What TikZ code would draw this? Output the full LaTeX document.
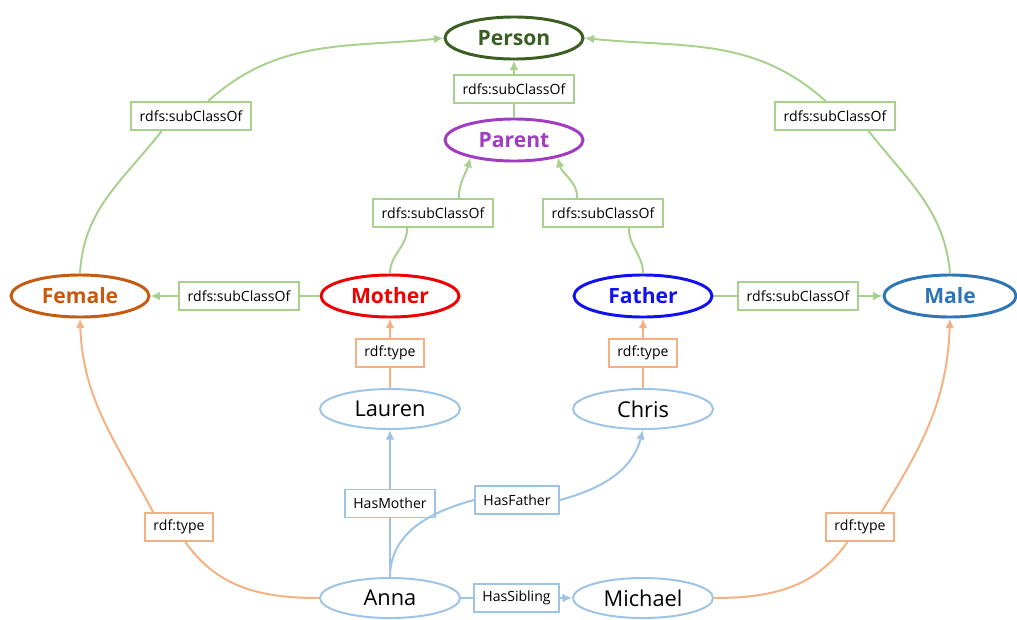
\documentclass[tikz,border=0pt]{standalone}
\usepackage{fontspec}
\setmainfont{Open Sans}
\usepackage{tikz}
\usetikzlibrary{shapes.geometric}
\usetikzlibrary{arrows.meta}

\definecolor{subgreen}{HTML}{A9D18E}
\definecolor{typeorange}{HTML}{F4B183}
\definecolor{relblue}{HTML}{9DC3E6}
\definecolor{personcol}{HTML}{3B5E22}
\definecolor{parentcol}{HTML}{A03CC2}
\definecolor{femalecol}{HTML}{C55A11}
\definecolor{malecol}{HTML}{2E75B6}
\definecolor{mothercol}{HTML}{F00000}
\definecolor{fathercol}{HTML}{1010F0}

\tikzset{
	classnode/.style={ellipse, draw, line width=2.1pt, inner sep=0pt, minimum width=3.45cm, minimum height=1.05cm, font=\fontsize{15}{18}\selectfont\bfseries},
	instnode/.style={ellipse, draw=relblue, line width=1.4pt, inner sep=0pt, minimum width=3.5cm, minimum height=1cm, font=\fontsize{15.5}{18}\selectfont},
	labelbox/.style={rectangle, line width=1.2pt, fill=white, inner xsep=6pt, minimum height=20pt, font=\fontsize{10}{12}\selectfont},
	subbox/.style={labelbox, draw=subgreen},
	typebox/.style={labelbox, draw=typeorange},
	relbox/.style={labelbox, draw=relblue},
	subline/.style={draw=subgreen, line width=1.4pt},
	typeline/.style={draw=typeorange, line width=1.4pt},
	relline/.style={draw=relblue, line width=1.4pt},
	tip/.style={-{Latex[length=2.4mm, width=2.2mm]}}
}

\begin{document}
\begin{tikzpicture}[x=0.025cm, y=-0.025cm]
	\useasboundingbox (0,0) rectangle (1017,619);

	% classes
	\node[classnode, draw=personcol, text=personcol](Person) at (514,38){Person};
	\node[classnode, draw=parentcol, text=parentcol](Parent) at (514,140){Parent};
	\node[classnode, draw=femalecol, text=femalecol](Female) at (80,296){Female};
	\node[classnode, draw=mothercol, text=mothercol](Mother) at (390,296){Mother};
	\node[classnode, draw=fathercol, text=fathercol](Father) at (643,296){Father};
	\node[classnode, draw=malecol, text=malecol, minimum width=3.3cm](Male) at (950,296){Male};

	% individuals
	\node[instnode](Lauren) at (390,409){Lauren};
	\node[instnode](Chris) at (643,409){Chris};
	\node[instnode](Anna) at (390,598){Anna};
	\node[instnode](Michael) at (643,598){Michael};

	% edge labels
	\node[subbox](subFemPer) at (191,116){rdfs:subClassOf};
	\node[subbox](subMalPer) at (835,116){rdfs:subClassOf};
	\node[subbox](subMotPar) at (433,213){rdfs:subClassOf};
	\node[subbox](subFatPar) at (603,213){rdfs:subClassOf};
	\node[subbox](subMotFem) at (239,296){rdfs:subClassOf};
	\node[subbox](subFatMal) at (798,296){rdfs:subClassOf};
	\node[typebox](typFem) at (179,527){rdf:type};
	\node[typebox](typMal) at (860,527){rdf:type};
	\node[relbox](relFat) at (517,500){HasFather};

	% subclass edges
	\draw[subline, tip] (Parent.north) -- node[subbox]{rdfs:subClassOf} (Person.south);
	\draw[subline] (Female.north) to[out=87, in=-128] (subFemPer.-153);
	\draw[subline, tip] (subFemPer.41) to[out=42, in=186] (Person.west);
	\draw[subline] (Male.north) to[out=95, in=-52] (subMalPer.-24);
	\draw[subline, tip] (subMalPer.122) to[out=138, in=-6] (Person.east);
	\draw[subline] (Mother.north) to[out=90, in=-90] (subMotPar.-150);
	\draw[subline, tip] (subMotPar.30) to[out=90, in=-105] (Parent.-158);
	\draw[subline] (Father.north) to[out=90, in=-90] (subFatPar.-30);
	\draw[subline, tip] (subFatPar.150) to[out=90, in=-75] (Parent.-22);
	\draw[subline] (Mother.west) -- (subMotFem);
	\draw[subline, tip] (subMotFem) -- (Female.east);
	\draw[subline] (Father.east) -- (subFatMal);
	\draw[subline, tip] (subFatMal) -- (Male.west);

	% type edges
	\draw[typeline, tip] (Lauren.north) -- node[typebox]{rdf:type} (Mother.south);
	\draw[typeline, tip] (Chris.north) -- node[typebox]{rdf:type} (Father.south);
	\draw[typeline] (Anna.west) to[out=180, in=-55] (typFem.-67);
	\draw[typeline, tip] (typFem.150) to[out=118, in=-88] (Female.south);
	\draw[typeline] (Michael.east) to[out=0, in=-125] (typMal.-130);
	\draw[typeline, tip] (typMal.35) to[out=58, in=-92] (Male.south);

	% relations
	\draw[relline, tip] (Anna.north) -- node[relbox]{HasMother} (Lauren.south);
	\draw[relline] (Anna.north) to[out=90, in=195] (relFat.west);
	\draw[relline, tip] (relFat.east) to[out=15, in=-105] (Chris.south);
	\draw[relline, tip] (Anna.east) -- node[relbox]{HasSibling} (Michael.west);

\end{tikzpicture}
\end{document}
